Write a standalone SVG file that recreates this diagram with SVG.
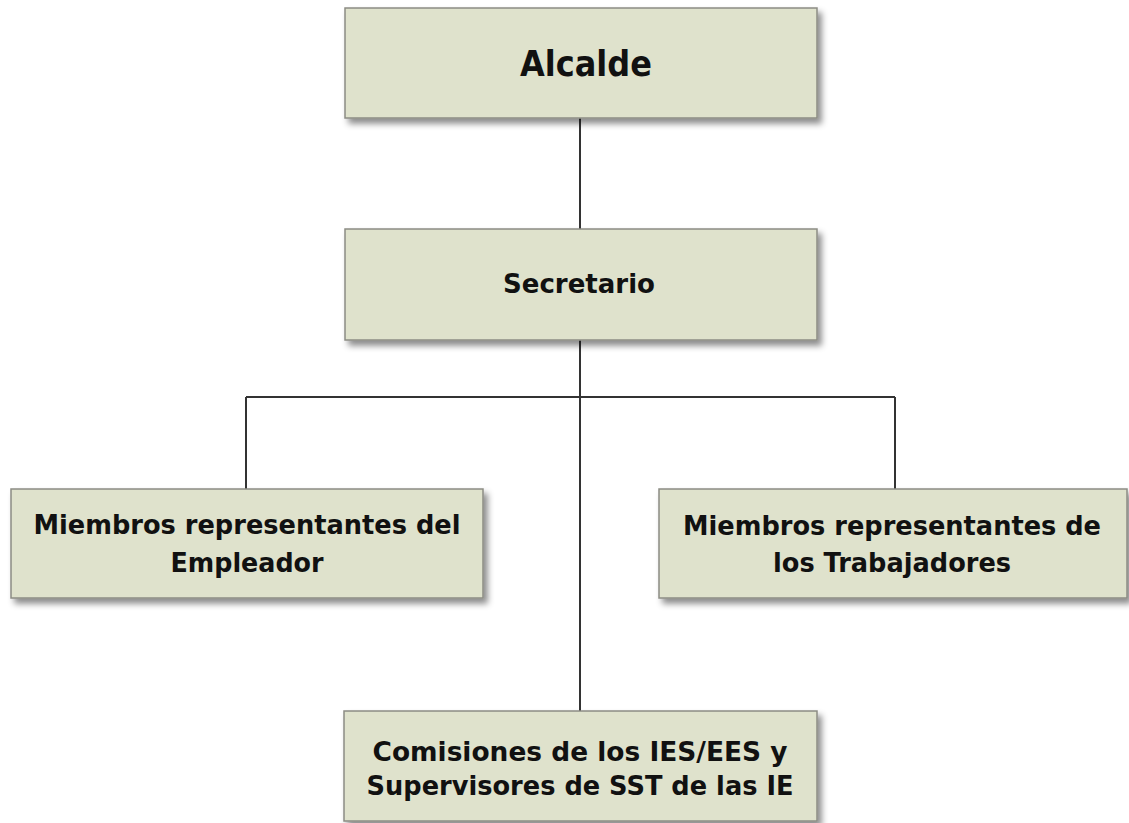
<svg xmlns="http://www.w3.org/2000/svg" width="1129" height="823" viewBox="0 0 1129 823">
<style>
.box{fill:#dfe2cc;stroke:#8c8c84;stroke-width:1.5;filter:url(#sh)}
.t{font-family:"DejaVu Sans","Liberation Sans",sans-serif;font-weight:bold;fill:#111;text-anchor:middle}
.c{stroke:#333;stroke-width:2;fill:none}
</style>
<defs>
<filter id="sh" x="-5%" y="-10%" width="115%" height="130%">
<feDropShadow dx="4" dy="5" stdDeviation="3" flood-color="#000" flood-opacity="0.45"/>
</filter>
</defs>
<rect width="1129" height="823" fill="#fff"/>
<g id="connectors">
<path class="c" d="M580 118V229M580 340V711M246 397H895M246 397V489M895 397V489"/>
</g>
<g id="alcalde">
<rect class="box" x="345" y="8" width="472" height="110"/>
<text class="t" x="586" y="76" font-size="35" textLength="132" lengthAdjust="spacingAndGlyphs">Alcalde</text>
</g>
<g id="secretario">
<rect class="box" x="345" y="229" width="472" height="111"/>
<text class="t" x="579" y="293" font-size="27" textLength="152" lengthAdjust="spacingAndGlyphs">Secretario</text>
</g>
<g id="empleador">
<rect class="box" x="11" y="489" width="472" height="109"/>
<text class="t" x="247" y="534" font-size="27" textLength="427" lengthAdjust="spacingAndGlyphs">Miembros representantes del</text>
<text class="t" x="247" y="572" font-size="27" textLength="153" lengthAdjust="spacingAndGlyphs">Empleador</text>
</g>
<g id="trabajadores">
<rect class="box" x="659" y="489" width="468" height="109"/>
<text class="t" x="892" y="535" font-size="26" textLength="418" lengthAdjust="spacingAndGlyphs">Miembros representantes de</text>
<text class="t" x="892" y="572" font-size="27" textLength="238" lengthAdjust="spacingAndGlyphs">los Trabajadores</text>
</g>
<g id="comisiones">
<rect class="box" x="344" y="711" width="473" height="110"/>
<text class="t" x="580" y="761" font-size="27" textLength="415" lengthAdjust="spacingAndGlyphs">Comisiones de los IES/EES y</text>
<text class="t" x="580" y="795" font-size="27" textLength="427" lengthAdjust="spacingAndGlyphs">Supervisores de SST de las IE</text>
</g>
</svg>
